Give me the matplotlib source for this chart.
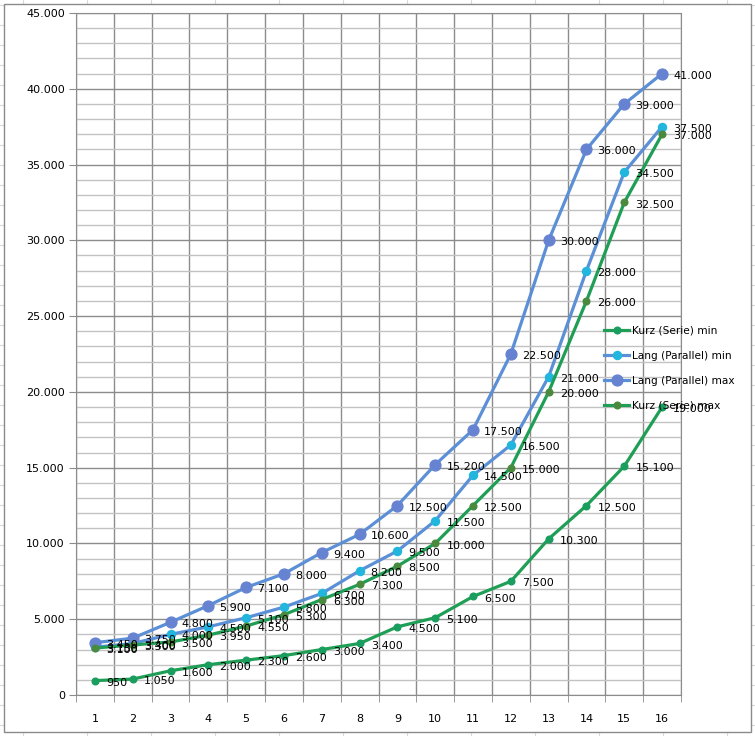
import matplotlib
matplotlib.use("Agg")
import matplotlib.pyplot as plt
from matplotlib.lines import Line2D
from matplotlib.patches import Rectangle
from matplotlib.ticker import MultipleLocator, FuncFormatter

# data
stufen = list(range(1, 17))
kurz_min = [950, 1050, 1600, 2000, 2300, 2600, 3000, 3400, 4500, 5100,
            6500, 7500, 10300, 12500, 15100, 19000]
lang_min = [3150, 3400, 4000, 4500, 5100, 5800, 6700, 8200, 9500, 11500,
            14500, 16500, 21000, 28000, 34500, 37500]
lang_max = [3450, 3750, 4800, 5900, 7100, 8000, 9400, 10600, 12500, 15200,
            17500, 22500, 30000, 36000, 39000, 41000]
kurz_max = [3100, 3300, 3500, 3950, 4550, 5300, 6300, 7300, 8500, 10000,
            12500, 15000, 20000, 26000, 32500, 37000]

W, H = 755, 736
fig = plt.figure(figsize=(W / 100, H / 100), dpi=100)
fig.patch.set_facecolor("white")

# spreadsheet cells behind the chart
for x in range(23, W, 64):
    fig.add_artist(Line2D([x / W, x / W], [0, 1], color="#d9d9d9", lw=0.8, zorder=0))
for y in range(5, H, 20):
    fig.add_artist(Line2D([0, 1], [1 - y / H, 1 - y / H], color="#d9d9d9", lw=0.8, zorder=0))
# chart area
fig.add_artist(Rectangle((4 / W, 1 - 732 / H), (751 - 4) / W, (732 - 3.5) / H,
                         facecolor="white", edgecolor="#8a8a8a", lw=1.0, zorder=0.5))

ax = fig.add_axes([76 / W, 1 - 695 / H, (681 - 76) / W, (695 - 13) / H])
ax.set_zorder(1)
ax.patch.set_alpha(0)

def fmt(v, pos=None):
    return f"{int(v):,}".replace(",", ".")

series = [
    ("Kurz (Serie) min", kurz_min, "#1f9e55", "#1a9e60", 4.8),
    ("Lang (Parallel) min", lang_min, "#5b8fd6", "#22b6de", 5.8),
    ("Lang (Parallel) max", lang_max, "#5b8fd6", "#6683d2", 7.8),
    ("Kurz (Serie) max", kurz_max, "#1f9e55", "#4a8a3e", 4.8),
]
for name, vals, lc, mc, ms in series:
    ax.plot(stufen, vals, color=lc, lw=2.3, marker="o", ms=ms,
            mfc=mc, mec=mc, label=name, zorder=3)
    for x, v in zip(stufen, vals):
        ax.annotate(fmt(v), (x, v), xytext=(8, -1.5), textcoords="offset points",
                    ha="left", va="center", fontsize=8, color="black", zorder=4)

ax.set_xlim(0.5, 16.5)
ax.set_ylim(0, 45000)
ax.yaxis.set_major_locator(MultipleLocator(5000))
ax.yaxis.set_minor_locator(MultipleLocator(1000))
ax.yaxis.set_major_formatter(FuncFormatter(fmt))
ax.set_xticks(stufen)
ax.set_xticks([i + 0.5 for i in range(0, 17)], minor=True)
ax.grid(which="major", axis="y", color="#8c8c8c", lw=1.0, zorder=1)
ax.grid(which="minor", axis="y", color="#c2c2c2", lw=1.0, zorder=1)
ax.grid(which="minor", axis="x", color="#8c8c8c", lw=1.0, zorder=1)
ax.set_axisbelow(True)
for s in ax.spines.values():
    s.set_color("#8c8c8c")
ax.tick_params(axis="x", which="major", length=0, pad=14, labelsize=8)
ax.tick_params(axis="x", which="minor", length=5, color="#8c8c8c", direction="out")
ax.tick_params(axis="y", which="major", length=5, color="#8c8c8c", labelsize=8, pad=3)
ax.tick_params(axis="y", which="minor", length=0)

leg = ax.legend(loc="upper left", bbox_to_anchor=((604 - 76) / (681 - 76), 1 - (326 - 13) / (695 - 13)),
                frameon=False, fontsize=7.6, handlelength=2.4, handletextpad=0.25,
                labelspacing=1.4, borderpad=0, borderaxespad=0)
leg.set_zorder(5)

fig.savefig("out.png", dpi=100, facecolor="white")
